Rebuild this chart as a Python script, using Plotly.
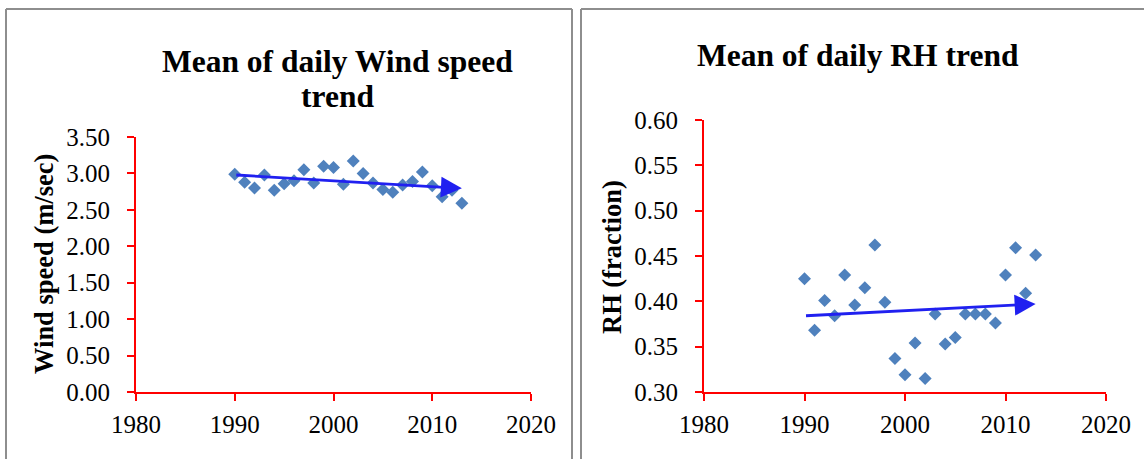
import plotly.graph_objects as go

years = list(range(1990, 2014))
wind_speed = [2.99, 2.88, 2.80, 2.98, 2.77, 2.86, 2.90, 3.05, 2.87, 3.10, 3.08, 2.85,
              3.17, 3.00, 2.87, 2.78, 2.74, 2.84, 2.89, 3.02, 2.83, 2.68, 2.77, 2.59]
rh = [0.425, 0.368, 0.401, 0.384, 0.429, 0.396, 0.415, 0.462, 0.399, 0.337, 0.319, 0.354,
      0.315, 0.386, 0.353, 0.360, 0.386, 0.386, 0.386, 0.376, 0.429, 0.459, 0.409, 0.451]
trend_years = [1990, 2013]
wind_trend = [2.98, 2.795]
rh_trend = [0.384, 0.397]

x_ticks = [1980, 1990, 2000, 2010, 2020]
wind_ticks = [0.0, 0.5, 1.0, 1.5, 2.0, 2.5, 3.0, 3.5]
rh_ticks = [0.30, 0.35, 0.40, 0.45, 0.50, 0.55, 0.60]

W, H = 1144, 459
FONT = "Liberation Serif"
RED = "#ff0000"
MARK = "#4f81bd"
ARROW = "#2020f0"
FRAME = "#8e8e8e"


def px_x(p):
    return p / W


def px_y(p):
    return (H - p) / H


fig = go.Figure()
fig.add_trace(go.Scatter(x=years, y=wind_speed, mode="markers", xaxis="x", yaxis="y",
                         marker=dict(symbol="diamond", size=10, color=MARK), showlegend=False))
fig.add_trace(go.Scatter(x=years, y=rh, mode="markers", xaxis="x2", yaxis="y2",
                         marker=dict(symbol="diamond", size=10, color=MARK), showlegend=False))

axis_common = dict(showline=True, linecolor=RED, linewidth=2, ticks="outside", tickcolor=RED,
                   ticklen=7, tickwidth=2, showgrid=False, zeroline=False, automargin=False,
                   tickfont=dict(family=FONT, size=25, color="black"))

fig.update_layout(
    width=W, height=H, margin=dict(l=0, r=0, t=0, b=0, autoexpand=False),
    paper_bgcolor="white", plot_bgcolor="white",
    xaxis=dict(domain=[px_x(136), px_x(531)], range=[1980, 2020], tickvals=x_ticks,
               anchor="y", ticklabelstandoff=2, **axis_common),
    yaxis=dict(domain=[px_y(392), px_y(137)], range=[0, 3.5], tickvals=wind_ticks,
               tickformat=".2f", anchor="x", ticklabelstandoff=12, **axis_common),
    xaxis2=dict(domain=[px_x(704), px_x(1106)], range=[1980, 2020], tickvals=x_ticks,
                anchor="y2", ticklabelstandoff=2, **axis_common),
    yaxis2=dict(domain=[px_y(392), px_y(120)], range=[0.3, 0.6], tickvals=rh_ticks,
                tickformat=".2f", anchor="x2", ticklabelstandoff=12, **axis_common),
)

# panel frames (kept inside the page)
frame_lines = [
    (6, 9, 6, 459), (6, 9, 572, 9), (572, 9, 572, 459),
    (581, 9, 581, 459), (581, 9, 1144, 9),
]
for x0, y0, x1, y1 in frame_lines:
    fig.add_shape(type="line", xref="paper", yref="paper",
                  x0=px_x(x0), y0=px_y(y0), x1=px_x(x1), y1=px_y(y1),
                  line=dict(color=FRAME, width=2), layer="below")

# trend arrows
fig.add_annotation(x=trend_years[1], y=wind_trend[1], ax=trend_years[0], ay=wind_trend[0],
                   xref="x", yref="y", axref="x", ayref="y", text="", showarrow=True,
                   arrowhead=2, arrowsize=1.5, arrowwidth=2.8, arrowcolor=ARROW, standoff=0)
fig.add_annotation(x=trend_years[1], y=rh_trend[1], ax=trend_years[0], ay=rh_trend[0],
                   xref="x2", yref="y2", axref="x2", ayref="y2", text="", showarrow=True,
                   arrowhead=2, arrowsize=1.5, arrowwidth=2.8, arrowcolor=ARROW, standoff=0)

title_font = dict(family=FONT, size=31.5, color="black")
axis_title_font = dict(family=FONT, size=26.5, color="black")

fig.add_annotation(x=px_x(337), y=px_y(61), xref="paper", yref="paper", showarrow=False,
                   text="<b>Mean of daily Wind speed</b>", xanchor="center", yanchor="middle",
                   font=title_font)
fig.add_annotation(x=px_x(337), y=px_y(96), xref="paper", yref="paper", showarrow=False,
                   text="<b>trend</b>", xanchor="center", yanchor="middle", font=title_font)
fig.add_annotation(x=px_x(858), y=px_y(55), xref="paper", yref="paper", showarrow=False,
                   text="<b>Mean of daily RH trend</b>", xanchor="center", yanchor="middle",
                   font=title_font)
fig.add_annotation(x=px_x(44), y=px_y(264), xref="paper", yref="paper", showarrow=False,
                   text="<b>Wind speed (m/sec)</b>", textangle=-90, xanchor="center",
                   yanchor="middle", font=axis_title_font)
fig.add_annotation(x=px_x(612), y=px_y(257), xref="paper", yref="paper", showarrow=False,
                   text="<b>RH (fraction)</b>", textangle=-90, xanchor="center",
                   yanchor="middle", font=axis_title_font)

fig.write_html("out.html")
